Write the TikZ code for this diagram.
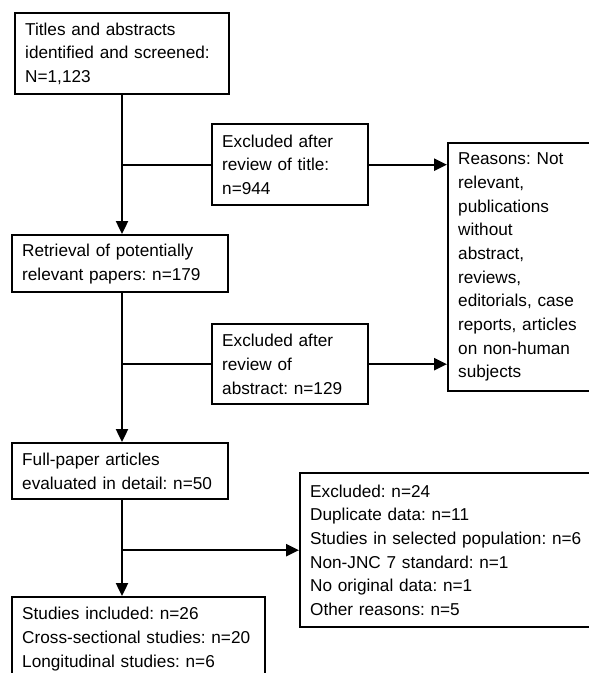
\documentclass[tikz,border=0pt]{standalone}
\usepackage{fontspec}
\setmainfont{Liberation Sans}
\usetikzlibrary{arrows.meta}
\frenchspacing

\begin{document}
\begin{tikzpicture}[x=1pt, y=-1pt,
    box/.style={draw, line width=2.4pt, anchor=north west, align=left,
      inner xsep=10pt, inner ysep=0pt, font=\fontsize{17.2}{23.7}\selectfont},
    link/.style={line width=2.4pt},
    arrow/.style={link, -{Triangle[length=13pt, width=12pt]}}]
    \useasboundingbox (0,0) rectangle (589,673);
    \coordinate (spine) at (122,0);

    \node[box, minimum width=214pt, minimum height=81pt, text width=194pt] (titles) at (14,12)
      {Titles and abstracts\\identified and screened:\\N=1,123};
    \node[box, minimum width=156pt, minimum height=81pt, text width=136pt] (extitle) at (211,123)
      {Excluded after\\review of title:\\n=944};
    \node[box, minimum width=150pt, minimum height=248pt, text width=130pt] (reasons) at (447,142)
      {Reasons: Not\\relevant,\\publications\\without\\abstract,\\reviews,\\editorials, case\\reports, articles\\on non-human\\subjects};
    \node[box, minimum width=216pt, minimum height=57pt, text width=196pt] (retrieval) at (11,234)
      {Retrieval of potentially\\relevant papers: n=179};
    \node[box, minimum width=156pt, minimum height=80pt, text width=136pt] (exabstract) at (211,323)
      {Excluded after\\review of\\abstract: n=129};
    \node[box, minimum width=216pt, minimum height=56pt, text width=196pt] (fullpaper) at (11,442)
      {Full-paper articles\\evaluated in detail: n=50};
    \node[box, minimum width=300pt, minimum height=154pt, text width=280pt] (excluded) at (299,472)
      {Excluded: n=24\\Duplicate data: n=11\\Studies in selected population: n=6\\Non-JNC 7 standard: n=1\\No original data: n=1\\Other reasons: n=5};
    \node[box, minimum width=253pt, minimum height=84pt, text width=233pt] (included) at (11,596)
      {Studies included: n=26\\Cross-sectional studies: n=20\\Longitudinal studies: n=6};

    \draw[arrow] (spine |- titles.south) -- (spine |- retrieval.north);
    \draw[link] (spine |- extitle.west) -- (extitle.west);
    \draw[arrow] (extitle.east) -- (extitle.east -| reasons.west);
    \draw[arrow] (spine |- retrieval.south) -- (spine |- fullpaper.north);
    \draw[link] (spine |- exabstract.west) -- (exabstract.west);
    \draw[arrow] (exabstract.east) -- (exabstract.east -| reasons.west);
    \draw[arrow] (spine |- fullpaper.south) -- (spine |- included.north);
    \draw[arrow] (spine |- excluded.west) -- (excluded.west);
  \end{tikzpicture}
\end{document}
